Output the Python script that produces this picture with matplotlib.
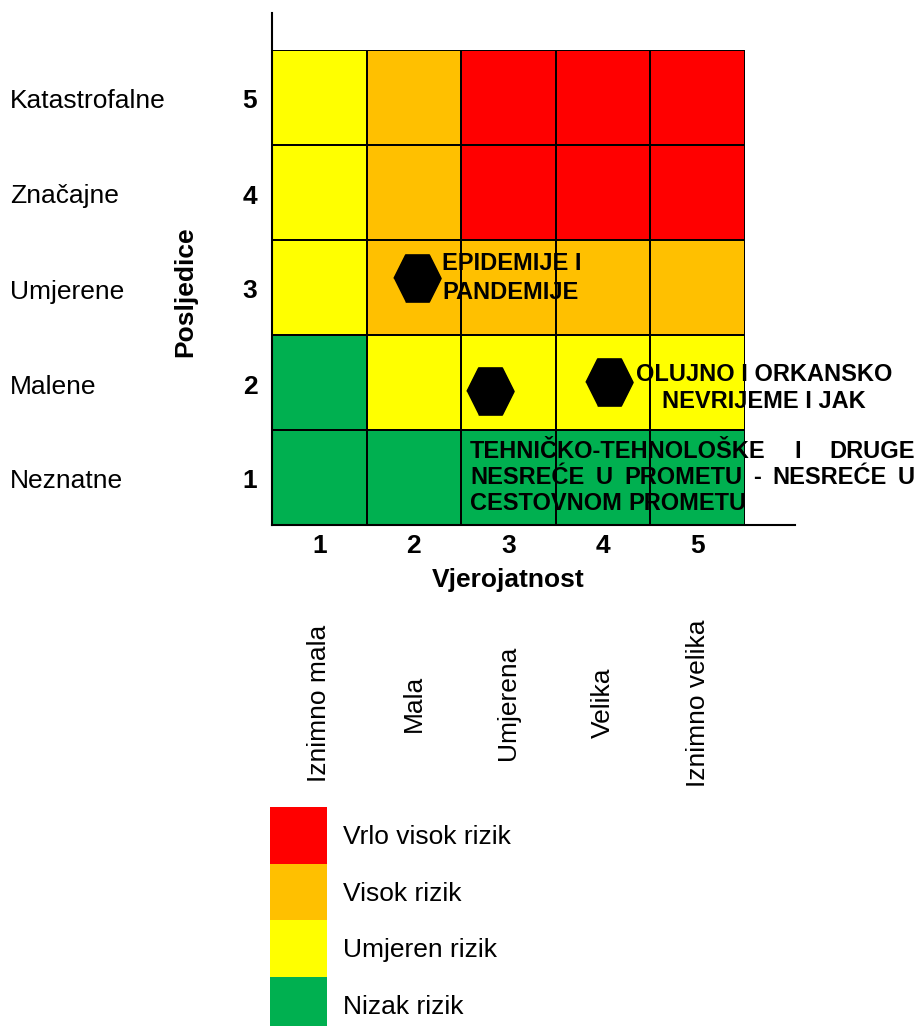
import matplotlib.pyplot as plt
import matplotlib.transforms as mtransforms
import numpy as np
from matplotlib.colors import ListedColormap

plt.rcParams['font.family'] = ['Liberation Sans', 'DejaVu Sans']

# osi matrice
vjerojatnost = [1, 2, 3, 4, 5]
vjerojatnost_opis = ['Iznimno mala', 'Mala', 'Umjerena', 'Velika', 'Iznimno velika']
posljedice = [1, 2, 3, 4, 5]
posljedice_opis = ['Neznatne', 'Malene', 'Umjerene', 'Značajne', 'Katastrofalne']

# razina rizika po celiji: redovi = posljedice 1..5, stupci = vjerojatnost 1..5
matrica = [
    [0, 0, 0, 0, 0],
    [0, 1, 1, 1, 1],
    [1, 2, 2, 2, 2],
    [1, 2, 3, 3, 3],
    [1, 2, 3, 3, 3],
]
razine = ['Nizak rizik', 'Umjeren rizik', 'Visok rizik', 'Vrlo visok rizik']
boje = ['#00B050', '#FFFF00', '#FFC000', '#FF0000']

# ucrtani rizici (vjerojatnost, posljedice)
rizici_x = [2.03, 2.80, 4.06]
rizici_y = [3.10, 1.91, 2.01]

W, H = 923, 1026
fig = plt.figure(figsize=(W / 100, H / 100), dpi=100)

ax = fig.add_axes([272 / W, 1 - 525 / H, 473 / W, 475 / H])
edges = np.arange(0.5, 6.0, 1.0)
ax.pcolormesh(edges, edges, np.array(matrica), cmap=ListedColormap(boje),
              vmin=-0.5, vmax=3.5, edgecolors='black', linewidth=1.1)
ax.set_xlim(0.5, 5.5)
ax.set_ylim(0.5, 5.5)
ax.axis('off')
ax.plot([0.5, 0.5], [0.5, 5.89], color='black', lw=1.5, clip_on=False)
ax.plot([0.5, 6.03], [0.5, 0.5], color='black', lw=1.5, clip_on=False)

# sesterokutni marker
hexa = [(-1, 0), (-0.5, 1), (0.5, 1), (1, 0), (0.5, -1), (-0.5, -1)]
ax.plot(rizici_x, rizici_y, linestyle='none', marker=hexa, markersize=34,
        color='black', zorder=5, clip_on=False)

# oznake osi
fy = mtransforms.blended_transform_factory(fig.transFigure, ax.transData)
fy = mtransforms.offset_copy(fy, fig=fig, y=-4, units='dots')
fx = mtransforms.blended_transform_factory(ax.transData, fig.transFigure)
for p, opis in zip(posljedice, posljedice_opis):
    ax.text(10 / W, p, opis, transform=fy, ha='left', va='center', fontsize=19)
    ax.text(250 / W, p, str(p), transform=fy, ha='center', va='center',
            fontsize=19, fontweight='bold')
ax.text(185 / W, 3, 'Posljedice', transform=fy, ha='center', va='center',
        rotation=90, fontsize=19, fontweight='bold')

for v, opis in zip(vjerojatnost, vjerojatnost_opis):
    ax.text(v, 1 - 546 / H, str(v), transform=fx, ha='center', va='center',
            fontsize=19, fontweight='bold')
    ax.text(v, 1 - 703 / H, opis, transform=fx, ha='center', va='center',
            rotation=90, fontsize=19)
ax.text(3, 1 - 580 / H, 'Vjerojatnost', transform=fx, ha='center', va='center',
        fontsize=19, fontweight='bold')

# nazivi rizika
fig.text(442 / W, 1 - 278 / H, 'EPIDEMIJE I\nPANDEMIJE', ha='left', va='center',
         fontsize=17, fontweight='bold', linespacing=1.3, zorder=6)
fig.text(764 / W, 1 - 388 / H, 'OLUJNO I ORKANSKO\nNEVRIJEME I JAK', ha='center',
         va='center', multialignment='center', fontsize=17, fontweight='bold',
         linespacing=1.17, zorder=6)

renderer = fig.canvas.get_renderer()


def justified(line, x0, x1, y, stretch=True):
    words = line.split()
    texts = [fig.text(0, 1 - y / H, w, ha='left', va='center', fontsize=17,
                      fontweight='bold', zorder=6) for w in words]
    widths = [t.get_window_extent(renderer).width for t in texts]
    if stretch and len(words) > 1:
        gap = ((x1 - x0) - sum(widths)) / (len(words) - 1)
    else:
        gap = texts[0].get_fontsize() * 100 / 72 * 0.278
    x = x0
    for t, w in zip(texts, widths):
        t.set_x(x / W)
        x += w + gap


justified('TEHNIČKO-TEHNOLOŠKE I DRUGE', 470, 915, 451)
justified('NESREĆE U PROMETU - NESREĆE U', 470, 915, 478)
justified('CESTOVNOM PROMETU', 470, 915, 504, stretch=False)

# legenda
lax = fig.add_axes([270 / W, 1 - (807 + 4 * 56.5) / H, 57 / W, 4 * 56.5 / H])
lax.pcolormesh([0, 1], np.arange(5), np.arange(4).reshape(4, 1),
               cmap=ListedColormap(boje), vmin=-0.5, vmax=3.5)
lax.set_xlim(0, 1)
lax.set_ylim(0, 4)
lax.axis('off')
ly = mtransforms.blended_transform_factory(fig.transFigure, lax.transData)
ly = mtransforms.offset_copy(ly, fig=fig, y=-2, units='dots')
for i, naziv in enumerate(razine):
    lax.text(343 / W, i + 0.5, naziv, transform=ly, ha='left', va='center',
             fontsize=19)

fig.savefig('out.png', dpi=100)
